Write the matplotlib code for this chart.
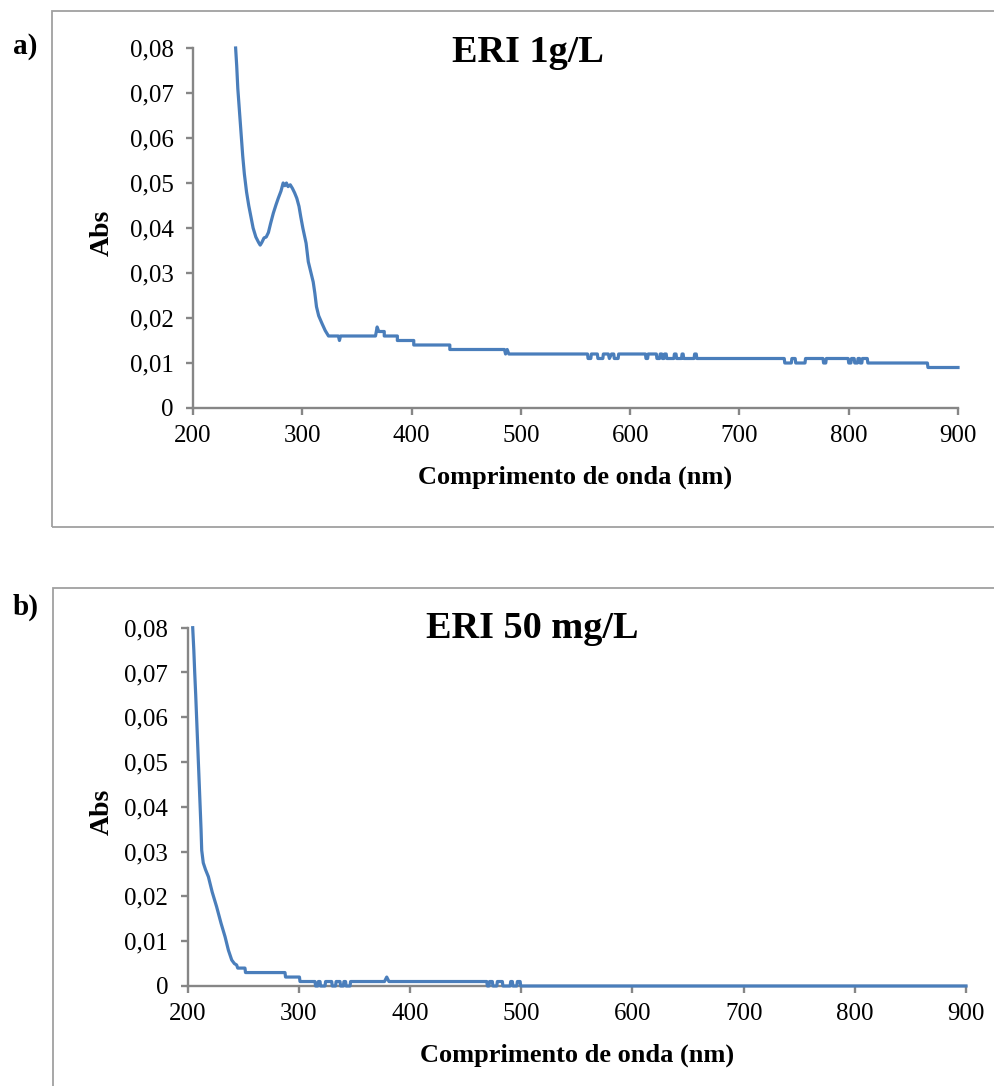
import matplotlib
matplotlib.use("Agg")
import matplotlib.pyplot as plt
from matplotlib.patches import Rectangle
from matplotlib.ticker import FuncFormatter

# ---------------- data ----------------
wl_a = [239, 240, 241, 242.5, 244, 245.5, 247, 249, 251, 253, 255, 257.5, 260, 261.5, 263, 265,
        267, 269, 271, 273.5, 276, 278, 280.5, 282.5, 284, 285.5, 287, 289, 291, 293, 295, 297,
        298.6, 300.5, 302, 303.5, 305.5, 307.5, 310, 311.5, 313, 315, 318, 321, 324,
        333, 334, 335, 367, 368.5, 370, 375, 375, 387, 387, 402, 402, 435, 435, 485, 486, 487.5,
        489, 561, 561.5, 564, 564.5, 570, 570.5, 575, 575.5, 580, 581, 583, 585, 585.5, 589, 589.5,
        614, 614.5, 616, 616.5, 624, 624.5, 627, 627.5, 629, 629.5, 631, 631.5, 633, 633.5,
        640, 640.5, 642, 642.5, 647, 647.5, 648.5, 649, 658.5, 659, 660.5, 661,
        741, 741.5, 747.5, 748, 751, 751.5, 760, 760.5, 776.5, 777, 779, 779.5,
        799.5, 800, 802, 802.5, 805, 805.5, 808, 808.5, 810, 810.5, 812, 812.5, 817, 817.5,
        872, 872.5, 900]
abs_a = [0.080, 0.076, 0.071, 0.066, 0.061, 0.056, 0.052, 0.048, 0.045, 0.0425, 0.040, 0.038,
         0.0368, 0.0362, 0.0368, 0.0378, 0.0380, 0.039, 0.041, 0.0433, 0.0452, 0.0466, 0.0482,
         0.0500, 0.0494, 0.0500, 0.0492, 0.0496, 0.0488, 0.0478, 0.0466, 0.0448, 0.0425, 0.040,
         0.0383, 0.0366, 0.0325, 0.0305, 0.0280, 0.0255, 0.0225, 0.0205, 0.0188, 0.0172, 0.016,
         0.016, 0.015, 0.016, 0.016, 0.018, 0.017, 0.017, 0.016, 0.016, 0.015, 0.015, 0.014,
         0.014, 0.013, 0.013, 0.012, 0.013, 0.012, 0.012, 0.011, 0.011, 0.012, 0.012, 0.011,
         0.011, 0.012, 0.012, 0.011, 0.012, 0.012, 0.011, 0.011, 0.012,
         0.012, 0.011, 0.011, 0.012, 0.012, 0.011, 0.011, 0.012, 0.012, 0.011, 0.011, 0.012,
         0.012, 0.011,
         0.011, 0.012, 0.012, 0.011, 0.011, 0.012, 0.012, 0.011, 0.011, 0.012, 0.012, 0.011,
         0.011, 0.010, 0.010, 0.011, 0.011, 0.010, 0.010, 0.011, 0.011, 0.010, 0.010, 0.011,
         0.011, 0.010, 0.010, 0.011, 0.011, 0.010, 0.010, 0.011, 0.011, 0.010, 0.010, 0.011,
         0.011, 0.010, 0.010, 0.009, 0.009]

wl_b = [204.5, 205.5, 206.3, 207.2, 208, 208.8, 209.6, 210.4, 211.2, 212, 212.6, 214, 216,
        218.6, 222, 226, 230, 233.6, 236.6, 239.6, 242, 244, 245, 251.5, 252, 287.5, 288,
        300.5, 301, 314.5, 315, 317, 317.5, 319, 319.5, 323.5, 324, 329.5, 330, 333, 333.5,
        337, 337.5, 340, 340.5, 342, 342.5, 346, 346.5, 377, 379, 381, 469, 469.5, 471, 471.5,
        474, 474.5, 478, 478.5, 483, 483.5, 490, 490.5, 492, 492.5, 496, 496.5, 499, 499.5, 900]
abs_b = [0.080, 0.075, 0.070, 0.065, 0.060, 0.055, 0.050, 0.045, 0.040, 0.035, 0.0303, 0.0275,
         0.026, 0.0244, 0.021, 0.0177, 0.014, 0.011, 0.008, 0.0058, 0.005, 0.0047, 0.004, 0.004,
         0.003, 0.003, 0.002, 0.002, 0.001, 0.001, 0.0, 0.0, 0.001, 0.001, 0.0, 0.0, 0.001,
         0.001, 0.0, 0.0, 0.001, 0.001, 0.0, 0.0, 0.001, 0.001, 0.0, 0.0, 0.001, 0.001, 0.002,
         0.001, 0.001, 0.0, 0.0, 0.001, 0.001, 0.0, 0.0, 0.001, 0.001, 0.0, 0.0, 0.001, 0.001,
         0.0, 0.0, 0.001, 0.001, 0.0, 0.0]

x_ticks = [200, 300, 400, 500, 600, 700, 800, 900]
y_ticks = [0, 0.01, 0.02, 0.03, 0.04, 0.05, 0.06, 0.07, 0.08]
titles = ["ERI 1g/L", "ERI 50 mg/L"]
panel_labels = ["a)", "b)"]
xlabel = "Comprimento de onda (nm)"
ylabel = "Abs"

# ---------------- style ----------------
W, H = 994, 1086
plt.rcParams['font.family'] = ['Liberation Serif', 'DejaVu Serif']
LINE = '#4a7ebb'
AX = '#868686'
BOX = '#a0a0a0'

fig = plt.figure(figsize=(W / 100, H / 100), dpi=100)

def fx(px):
    return px / W

def fy(py):
    return 1 - py / H

def yfmt(v, pos):
    if abs(v) < 1e-12:
        return "0"
    return ("%.2f" % v).replace(".", ",")

# axes rectangles in pixels: left, right, top, bottom
rects = [(193, 958, 48, 408), (187.7, 966, 627.7, 986)]
datasets = [(wl_a, abs_a), (wl_b, abs_b)]
title_pos = [(528, 52), (532, 628)]
lab_pos = [(25, 47), (26, 607)]
xlab_y = [477, 1055]
ylab_pos = [(102, 233), (102, 812)]
boxes = [(52, 11, 527), (53, 588, 1100)]

for i in range(2):
    l, r, t, b = rects[i]
    ax = fig.add_axes([fx(l), fy(b), fx(r) - fx(l), fy(t) - fy(b)])
    x, y = datasets[i]
    ax.plot(x, y, color=LINE, lw=2.3, clip_on=False, zorder=5, solid_joinstyle='round')
    ax.set_xlim(200, 900)
    ax.set_ylim(0, 0.08)
    ax.set_xticks(x_ticks)
    ax.set_yticks(y_ticks)
    ax.yaxis.set_major_formatter(FuncFormatter(yfmt))
    for s in ['top', 'right']:
        ax.spines[s].set_visible(False)
    for s in ['left', 'bottom']:
        ax.spines[s].set_color(AX)
        ax.spines[s].set_linewidth(1.7)
    ax.tick_params(axis='both', direction='out', color=AX, width=1.7, length=5,
                   labelsize=18, labelcolor='black')
    ax.tick_params(axis='x', pad=7)
    ax.tick_params(axis='y', pad=9)
    ax.patch.set_alpha(0)

    tx, ty = title_pos[i]
    fig.text(fx(tx), fy(ty), titles[i], ha='center', va='center', fontsize=27.5,
             fontweight='bold')
    lx, ly = lab_pos[i]
    fig.text(fx(lx), fy(ly), panel_labels[i], ha='center', va='center', fontsize=21,
             fontweight='bold')
    fig.text(fx((l + r) / 2 + 0), fy(xlab_y[i]), xlabel, ha='center', va='center',
             fontsize=19, fontweight='bold')
    yx, yy = ylab_pos[i]
    fig.text(fx(yx), fy(yy), ylabel, ha='center', va='center', fontsize=20,
             fontweight='bold', rotation=90)

    bx, bt, bb = boxes[i]
    fig.add_artist(Rectangle((fx(bx), fy(bb)), 1.2, fy(bt) - fy(bb),
                             transform=fig.transFigure, fill=False,
                             edgecolor=BOX, lw=1.3))

fig.savefig("out.png", dpi=100)
